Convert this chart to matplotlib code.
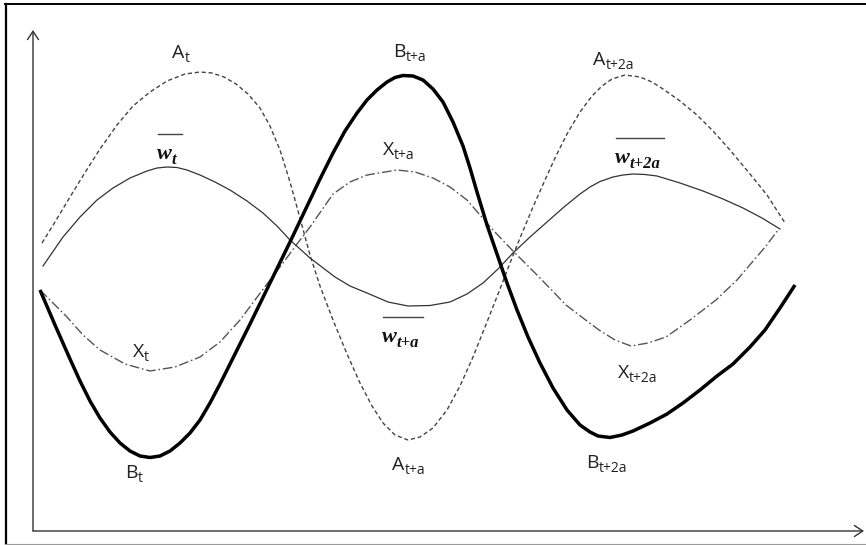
import matplotlib
matplotlib.use("Agg")
import matplotlib.pyplot as plt
from matplotlib.lines import Line2D

# readings: x = distance from the vertical axis, y = height above the horizontal axis
w_x = [10, 30, 47, 64, 80, 97, 114, 124, 134, 144, 154, 167, 182, 197, 214, 230, 244, 257, 277, 302,
       317, 334, 355, 375, 397, 417, 434, 450, 465, 480, 497, 514, 531, 547, 557, 567, 580, 590, 600, 612,
       624, 647, 670, 690, 710, 729, 747]
w_y = [265, 294, 314, 331, 343, 353, 360, 363, 364, 363.5, 361, 356, 349, 341, 330, 318, 305, 291, 273, 254,
       245, 238, 229, 225, 225.5, 229, 237, 248, 262, 278, 294, 309, 324, 337, 344, 349.5, 354, 356, 357, 356.5,
       355, 348, 340, 332, 323, 313, 302]

a_x = [9, 22, 37, 52, 67, 84, 100, 117, 134, 152, 167, 179, 191, 203, 215, 227, 237, 247, 257, 267,
       277, 287, 300, 314, 327, 339, 350, 362, 375, 387, 400, 414, 427, 440, 454, 467, 477, 487, 500, 512,
       522, 534, 547, 559, 569, 579, 592, 607, 619, 630, 647, 664, 680, 697, 717, 734, 752]
a_y = [288, 309, 334, 358.5, 382, 406, 425, 439, 450, 457, 459, 458, 454, 447, 437, 423, 405, 381, 349, 313,
       276, 245, 211, 177, 148, 125, 108, 96, 91, 94, 103, 121, 145, 174, 209, 242, 268, 293, 324, 351,
       373, 397, 419, 435, 445, 452, 456, 454, 449, 442, 430, 416, 400, 381, 357, 336, 308]

b_x = [7, 22, 37, 47, 57, 67, 77, 87, 97, 107, 117, 127, 137, 147, 157, 167, 177, 187, 202, 217,
       237, 257, 277, 287, 300, 312, 324, 334, 344, 354, 362, 370, 380, 390, 400, 410, 420, 430, 437, 444,
       454, 464, 474, 484, 495, 507, 520, 534, 547, 557, 565, 577, 589, 600, 617, 634, 650, 667, 684, 700,
       717, 732, 747, 762]
b_y = [241, 206, 172, 150, 130, 113, 99, 88, 80, 75, 73.5, 75, 80, 88, 98, 111, 128, 147, 177, 207,
       248, 289, 331, 352, 378, 400, 418, 431, 441, 449, 453.5, 455.5, 455, 451, 442, 429, 409, 385, 363, 339,
       306, 277, 248, 221, 194, 168, 143, 121, 106, 99, 95, 93.5, 96, 100, 108, 117, 128, 141, 155, 167,
       184, 201, 223, 246]

x_x = [7, 20, 34, 50, 67, 92, 117, 142, 167, 187, 207, 222, 237, 250, 264, 277, 300, 317, 334, 364,
       382, 400, 417, 434, 460, 480, 507, 533, 550, 566, 582, 598, 615, 633, 657, 683, 704, 733, 745]
x_y = [241, 228, 214, 196, 181, 167, 160, 164, 174, 189, 211, 231, 251, 268, 287, 304, 337, 349, 356, 361,
       359, 353, 344, 331, 301, 280, 253, 226, 213, 201, 191, 185, 188, 194, 211, 231, 251, 285, 301]

# curve names: letter, subscript
letter_names = [("A", "t"), ("B", "t+a"), ("X", "t+a"), ("A", "t+2a"), ("X", "t"),
                ("A", "t+a"), ("B", "t"), ("X", "t+2a"), ("B", "t+2a")]
w_subs = ["t", "t+a", "t+2a"]

# where the names sit (left edge, baseline)
letter_pos = [(139, 473), (360, 474), (350, 376), (560, 466), (100, 174),
              (359, 61), (92, 53), (585, 153), (553, 63)]
w_pos = [(124, 372, 24), (349, 189, 40), (582, 368, 48)]

fig = plt.figure(figsize=(8.66, 5.45), dpi=100)
ax = fig.add_axes([0, 0, 1, 1])
ax.set_xlim(-33, 833)
ax.set_ylim(-14, 531)
ax.set_axis_off()

# picture frame
fig.add_artist(Line2D([6 / 866, 6 / 866], [0.002, 1 - 3.5 / 545], color="black", lw=1.6))
fig.add_artist(Line2D([5 / 866, 1], [1 - 3.5 / 545, 1 - 3.5 / 545], color="black", lw=1.4))
fig.add_artist(Line2D([5 / 866, 1], [1.2 / 545, 1.2 / 545], color="#999999", lw=0.8))

# axes arrows
arrow = dict(arrowstyle="->,head_length=0.5,head_width=0.33", lw=1.0, color="#333333",
             shrinkA=0, shrinkB=0, mutation_scale=12)
ax.annotate("", xy=(0, 501), xytext=(0, 0), arrowprops=arrow)
ax.annotate("", xy=(831, 0), xytext=(0, 0), arrowprops=arrow)

ax.plot(a_x, a_y, color="#444444", lw=1.0, dashes=(3, 2))
ax.plot(x_x, x_y, color="#555555", lw=1.0, dashes=(7, 2, 1.2, 2))
ax.plot(w_x, w_y, color="#333333", lw=0.9, solid_joinstyle="round")
ax.plot(b_x, b_y, color="black", lw=2.5, solid_capstyle="butt", solid_joinstyle="round")

for (main, sub), (lx, ly) in zip(letter_names, letter_pos):
    t = ax.text(lx, ly, main, family="Open Sans", fontsize=14, color="#222222",
                ha="left", va="baseline")
    ax.annotate(sub, xy=(1, 0), xycoords=t, xytext=(0, 0), textcoords="offset points",
                family="Open Sans", fontsize=10, color="#222222", ha="left", va="baseline")

for sub, (lx, ly, bar) in zip(w_subs, w_pos):
    t = ax.text(lx, ly, "w", family="Liberation Serif", fontsize=16, fontweight="bold",
                style="italic", color="#111111", ha="left", va="baseline")
    ax.annotate(sub, xy=(1, 0), xycoords=t, xytext=(0, 0), textcoords="offset points",
                family="Liberation Serif", fontsize=12, fontweight="bold", style="italic",
                color="#111111", ha="left", va="baseline")
    ax.plot([lx + 1, lx + 1 + bar], [ly + 25, ly + 25], color="#444444", lw=1.0)

fig.savefig("out.png", dpi=100)
